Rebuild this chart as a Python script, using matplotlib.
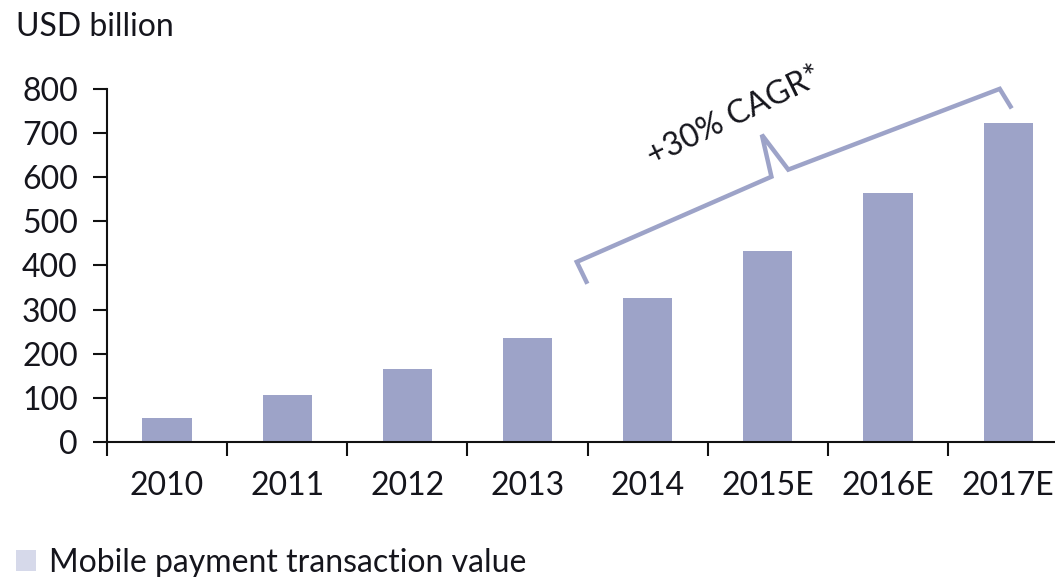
import matplotlib
matplotlib.use("Agg")
import matplotlib.pyplot as plt
from matplotlib.patches import Rectangle

categories = ["2010", "2011", "2012", "2013", "2014", "2015E", "2016E", "2017E"]
values = [55, 106, 166, 236, 327, 433, 565, 722]
yticks = [0, 100, 200, 300, 400, 500, 600, 700, 800]
unit_label = "USD billion"
legend_label = "Mobile payment transaction value"
cagr_label = "+30% CAGR*"

bar_color = "#9da3c8"
legend_color = "#d6d9ea"
text_color = "#15151c"

plt.rcParams['font.family'] = ['Lato', 'DejaVu Sans']
plt.rcParams['font.weight'] = 'normal'
FS = 23

fig = plt.figure(figsize=(10.55, 5.77), dpi=100)
ax = fig.add_axes([0.1014, 0.234, 0.8986, 0.612])

x = list(range(len(categories)))
ax.bar(x, values, width=0.41, color=bar_color, zorder=2)

ax.set_ylim(0, 800)
ax.set_xlim(-0.5, 7.39)
ax.set_yticks(yticks)
ax.set_yticklabels([str(v) for v in yticks])
ax.set_xticks([i - 0.5 for i in range(len(categories))])
ax.set_xticklabels([])
ax.set_xticks(x, minor=True)
ax.set_xticklabels(categories, minor=True)

for s in ["top", "right"]:
    ax.spines[s].set_visible(False)
for s in ["left", "bottom"]:
    ax.spines[s].set_linewidth(1.5)
    ax.spines[s].set_color("#111111")

ax.tick_params(axis='y', direction='out', length=10, width=1.5, pad=11,
               labelsize=FS, labelcolor=text_color, color="#111111")
ax.tick_params(axis='x', which='major', direction='out', length=10, width=1.5,
               color="#111111")
ax.tick_params(axis='x', which='minor', length=0, pad=21, labelsize=FS,
               labelcolor=text_color)

# CAGR bracket annotation
bx = [3.49, 3.41, 5.03, 4.95, 5.17, 6.93, 7.02]
by = [363, 408, 601, 696, 617, 800, 760]
ax.plot(bx, by, color=bar_color, lw=3.2, clip_on=False, solid_joinstyle='miter',
        zorder=3)
ax.text(4.72, 737, cagr_label, rotation=26, ha='center', va='center',
        fontsize=FS, color=text_color, rotation_mode='anchor')

fig.text(0.015, 0.9376, unit_label, fontsize=FS, color=text_color, va='baseline', ha='left')

fig.patches.append(Rectangle((0.0147, 1 - 571 / 577), 0.0195, 21 / 577,
                             transform=fig.transFigure,
                             facecolor=legend_color, edgecolor='none'))
fig.text(0.046, 0.0087, legend_label, fontsize=FS, color=text_color,
         va='baseline', ha='left')

fig.savefig("out.png", dpi=100)
